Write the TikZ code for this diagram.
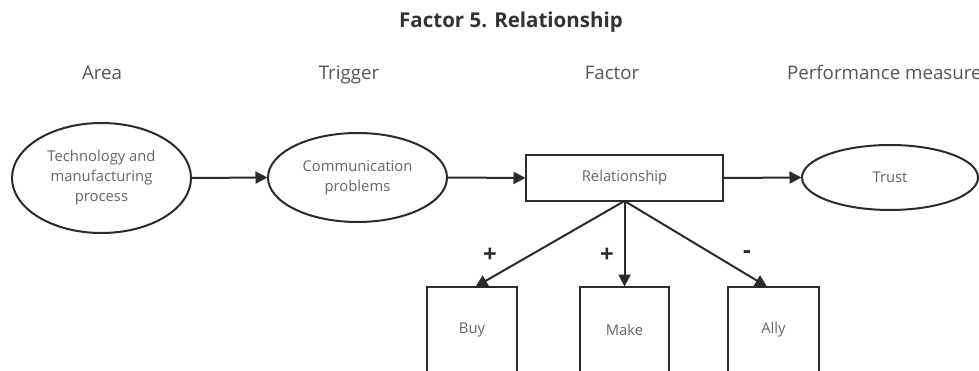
\documentclass[tikz,border=0pt]{standalone}
\usepackage{fontspec}
\setmainfont{Open Sans}
\usetikzlibrary{arrows.meta,shapes.geometric,calc}
\definecolor{inkline}{HTML}{2B2B2B}
\definecolor{inktext}{HTML}{666666}
\definecolor{headtext}{HTML}{555555}
\definecolor{titletext}{HTML}{333333}
\tikzset{
  x=1pt, y=-1pt,
  every node/.style={inner sep=0pt, outer sep=0pt},
  oval/.style={draw=inkline, line width=2pt, ellipse, text=inktext,
    align=center, font=\fontsize{14.8}{20}\selectfont},
  factorbox/.style={draw=inkline, line width=2pt, rectangle, text=inktext,
    font=\fontsize{14.8}{20}\selectfont},
  optionbox/.style={draw=inkline, line width=2pt, rectangle, text=inktext,
    minimum height=86pt, font=\fontsize{14.8}{20}\selectfont},
  header/.style={anchor=base, text=headtext, font=\fontsize{18.7}{22}\selectfont},
  sign/.style={text=inkline, font=\bfseries\fontsize{24}{26}\selectfont},
  flow/.style={draw=inkline, line width=2pt,
    -{Triangle[length=12pt,width=12pt]}, shorten >=0.5pt},
}
\begin{document}
\begin{tikzpicture}
  \clip (0,0) rectangle (979,371);
  \fill[white] (0,0) rectangle (979,371);

  % title and column headers
  \node[anchor=base, text=titletext, font=\bfseries\fontsize{20.5}{24}\selectfont]
    (title) at (511,28) {Factor 5. Relationship};
  \node[header] (hArea) at (102,80) {Area};
  \node[header] (hTrigger) at (349,80) {Trigger};
  \node[header] (hFactor) at (612,80) {Factor};
  \node[header, anchor=base west] (hMeasure) at (787,80) {Performance measure};

  % main chain
  \node[oval, minimum width=179pt, minimum height=110pt] (area) at (101.5,178)
    {Technology and\\manufacturing\\process};
  \node[oval, minimum width=179pt, minimum height=89pt] (trigger) at (357.5,177.5)
    {Communication\\problems};
  \node[factorbox, minimum width=197pt, minimum height=46pt] (rel) at (624.5,178)
    {Relationship};
  \node[oval, minimum width=176pt, minimum height=65pt] (trust) at (890,177.5)
    {Trust};

  \draw[flow] (area.east) -- (trigger.west);
  \draw[flow] (trigger.east) -- (rel.west);
  \draw[flow] (rel.east) -- (trust.west);

  % sourcing options below the factor
  \node[optionbox, minimum width=90pt] (buy) at (472,330) {Buy};
  \node[optionbox, minimum width=89pt] (make) at (624.5,330) {Make};
  \node[optionbox, minimum width=91pt] (ally) at (773.5,330) {Ally};

  \draw[flow] (rel.south) -- ($(buy.north)+(3,0)$);
  \draw[flow] (rel.south) -- (make.north);
  \draw[flow] (rel.south) -- ($(ally.north)+(-6,0)$);

  \node[sign] (pBuy) at (490,255) {+};
  \node[sign] (pMake) at (607,255) {+};
  \node[sign] (pAlly) at (747,255) {-};
\end{tikzpicture}
\end{document}
